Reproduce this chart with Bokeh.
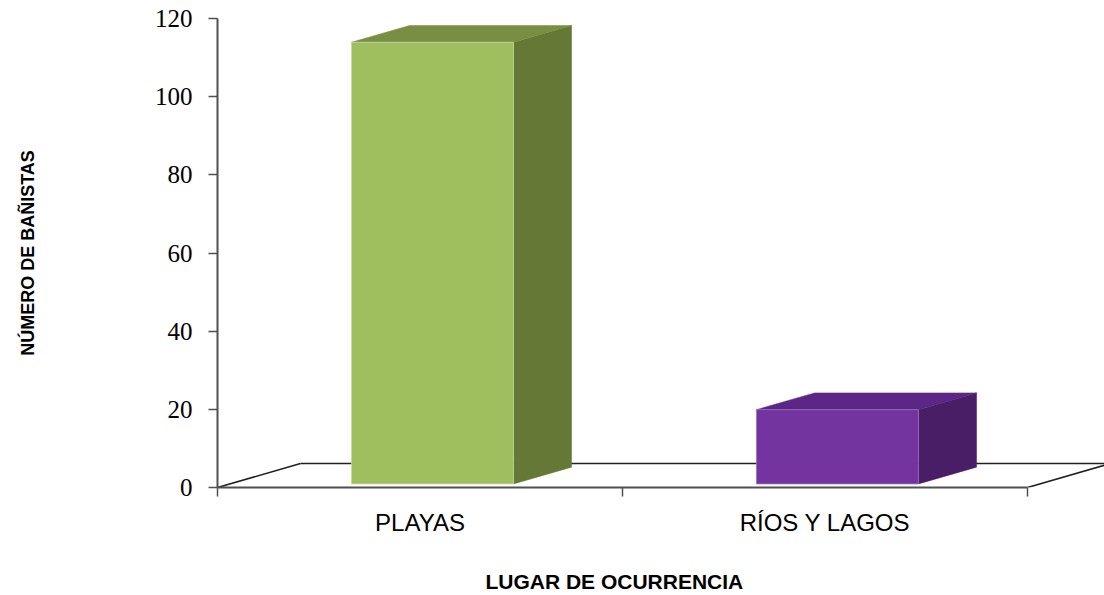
from bokeh.plotting import figure
from bokeh.models import Range1d, FixedTicker
from bokeh.embed import file_html
from bokeh.resources import INLINE

# ---- data ----
categories = ["PLAYAS", "RÍOS Y LAGOS"]
values = [113, 19]
y_ticks = [0, 20, 40, 60, 80, 100, 120]
front_colors = ["#9FBE5D", "#7334A0"]
top_colors = ["#788F43", "#5B2685"]
side_colors = ["#657835", "#4A1E66"]
x_title = "LUGAR DE OCURRENCIA"
y_title = "NÚMERO DE BAÑISTAS"

# ---- 3D geometry (style) ----
DX, DY = 0.205, 6.13        # floor depth offset in data units
F0, F1 = 0.15, 0.85         # bar depth fractions
BW = 0.4                    # bar width
X_END = 887 / 405

p = figure(width=1104, height=595, output_backend="svg", toolbar_location=None,
           x_range=Range1d(0, X_END), y_range=Range1d(0, 120),
           min_border_left=217, min_border_right=0, min_border_top=18,
           min_border_bottom=107)
p.outline_line_color = None
p.grid.visible = False
p.background_fill_color = "white"

axis_col = "#505050"
n = len(categories)

# floor
p.segment(x0=[0, n, DX], y0=[0, 0, DY], x1=[DX, n + DX, X_END + 1], y1=[DY, DY, DY],
          line_color="#202020", line_width=1.6)

# bars
for i, (v, fc, tc, sc) in enumerate(zip(values, front_colors, top_colors, side_colors)):
    c = i + 0.5
    L = c - BW / 2 + F0 * DX
    R = c + BW / 2 + F0 * DX
    B = F0 * DY
    T = B + v
    ddx = (F1 - F0) * DX
    ddy = (F1 - F0) * DY
    p.patch([R, R + ddx, R + ddx, R], [B, B + ddy, T + ddy, T],
            fill_color=sc, line_color=sc, line_width=0.5)
    p.patch([L, L + ddx, R + ddx, R], [T, T + ddy, T + ddy, T],
            fill_color=tc, line_color=tc, line_width=0.5)
    p.quad(left=[L], right=[R], bottom=[B], top=[T],
           fill_color=fc, line_color="#C8D8A8" if i == 0 else "#9A70C0", line_width=0.8)

# y axis
ya = p.yaxis[0]
ya.ticker = FixedTicker(ticks=y_ticks)
ya.bounds = (0, 120)
ya.axis_line_color = axis_col
ya.axis_line_width = 2
ya.major_tick_line_color = axis_col
ya.major_tick_line_width = 1.5
ya.major_tick_out = 9
ya.major_tick_in = 0
ya.minor_tick_line_color = None
ya.major_label_standoff = 16
ya.major_label_text_font = "Liberation Serif"
ya.major_label_text_font_size = "25px"
ya.major_label_text_color = "black"
ya.axis_label = y_title
ya.axis_label_text_font = "Liberation Sans"
ya.axis_label_text_font_style = "bold"
ya.axis_label_text_font_size = "18px"
ya.axis_label_text_color = "black"
ya.axis_label_standoff = 114

# x axis
xa = p.xaxis[0]
centers = [i + 0.5 for i in range(n)]
xa.ticker = FixedTicker(ticks=centers, minor_ticks=list(range(n + 1)))
xa.bounds = (0, n)
xa.major_label_overrides = {c: lab for c, lab in zip(centers, categories)}
xa.axis_line_color = axis_col
xa.axis_line_width = 2
xa.major_tick_line_color = None
xa.major_tick_out = 0
xa.major_tick_in = 0
xa.minor_tick_line_color = axis_col
xa.minor_tick_line_width = 1.5
xa.minor_tick_out = 9
xa.minor_tick_in = 0
xa.major_label_standoff = 12
xa.major_label_text_font = "Liberation Sans"
xa.major_label_text_font_size = "24px"
xa.major_label_text_color = "black"
# title centred under the category axis: pad with non-breaking spaces to move it left
xa.axis_label = x_title + "\u00a0" * 16
xa.axis_label_text_font = "Liberation Sans"
xa.axis_label_text_font_style = "bold"
xa.axis_label_text_font_size = "21px"
xa.axis_label_text_color = "black"
xa.axis_label_standoff = 31

open("out.html", "w").write(file_html(p, INLINE))
